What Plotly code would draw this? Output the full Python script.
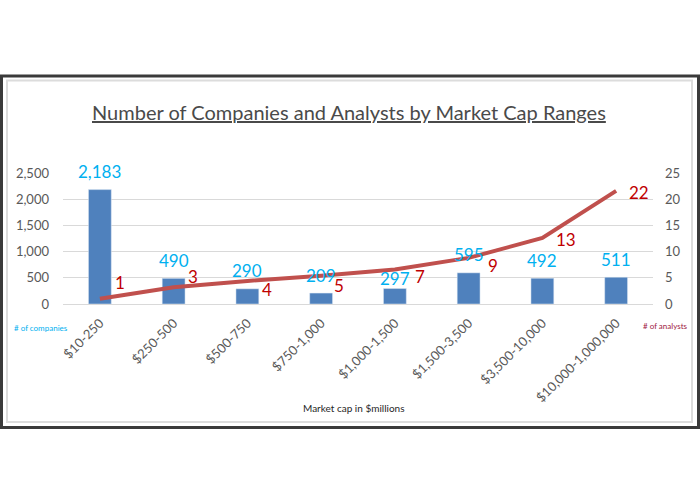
import plotly.graph_objects as go

# ---- data ----
categories = ["$10-250", "$250-500", "$500-750", "$750-1,000", "$1,000-1,500",
              "$1,500-3,500", "$3,500-10,000", "$10,000-1,000,000"]
companies = [2183, 490, 290, 209, 297, 595, 492, 511]
analysts = [1.0, 3.2, 4.4, 5.4, 6.6, 8.8, 12.6, 21.6]
analyst_labels = ["1", "3", "4", "5", "7", "9", "13", "22"]
left_ticks = [0, 500, 1000, 1500, 2000, 2500]
right_ticks = [0, 5, 10, 15, 20, 25]

W, H = 700, 504
def px(x):
    return x / W
def py(y):
    return 1 - y / H

FONT = "Lato, 'Open Sans', sans-serif"
GRAY = "#595959"
BAR = "#4F81BD"
LINE = "#C0504D"
BLUE_LBL = "#00B0F0"
RED_LBL = "#C00000"

fig = go.Figure()
fig.add_trace(go.Bar(x=categories, y=companies, marker_color=BAR, yaxis="y",
                     hoverinfo="skip"))
fig.add_trace(go.Scatter(x=categories, y=analysts, yaxis="y2", mode="lines",
                         line=dict(color=LINE, width=4), hoverinfo="skip"))

annotations = []
# bar value labels
bar_shift = [18, 18, 18, 18, 10, 18, 18, 18]
for c, v, s in zip(categories, companies, bar_shift):
    annotations.append(dict(x=c, y=v, xref="x", yref="y", text=f"{v:,}",
                            showarrow=False, yshift=s, yanchor="middle",
                            font=dict(family=FONT, size=17, color=BLUE_LBL)))
# line value labels
line_shift = [(20, 16), (19, 11), (20, -9), (18, -10), (25, -7), (24, -8), (24, -2), (23, -2)]
for c, v, t, (dx, dy) in zip(categories, analysts, analyst_labels, line_shift):
    annotations.append(dict(x=c, y=v, xref="x", yref="y2", text=t,
                            showarrow=False, xshift=dx, yshift=dy,
                            xanchor="center", yanchor="middle",
                            font=dict(family=FONT, size=17, color=RED_LBL)))
# title
annotations.append(dict(x=px(349), y=py(112), xref="paper", yref="paper",
                        text="<u>Number of Companies and Analysts by Market Cap Ranges</u>",
                        showarrow=False, xanchor="center", yanchor="middle",
                        font=dict(family=FONT, size=20, color="#4A4A4A")))
annotations.append(dict(x=px(41), y=py(328), xref="paper", yref="paper",
                        text="# of companies", showarrow=False,
                        xanchor="center", yanchor="middle",
                        font=dict(family=FONT, size=8, color=BLUE_LBL)))
annotations.append(dict(x=px(665), y=py(326), xref="paper", yref="paper",
                        text="# of analysts", showarrow=False,
                        xanchor="center", yanchor="middle",
                        font=dict(family=FONT, size=8, color="#A0203F")))
annotations.append(dict(x=px(354), y=py(408), xref="paper", yref="paper",
                        text="Market cap in $millions", showarrow=False,
                        xanchor="center", yanchor="middle",
                        font=dict(family=FONT, size=10, color="#262626")))

shapes = [
    dict(type="rect", xref="paper", yref="paper",
         x0=px(1.5), x1=px(698.5), y0=py(427.5), y1=py(76),
         line=dict(color="#3A3A3A", width=3), layer="above"),
    dict(type="rect", xref="paper", yref="paper",
         x0=px(7), x1=px(692), y0=py(422), y1=py(80.5),
         line=dict(color="#DCDCDC", width=2), layer="below"),
]

fig.update_layout(
    width=W, height=H,
    margin=dict(l=0, r=0, t=0, b=0),
    paper_bgcolor="white", plot_bgcolor="white",
    showlegend=False,
    bargap=0.69,
    font=dict(family=FONT, color=GRAY),
    xaxis=dict(domain=[px(63), px(653)], type="category",
               tickangle=-45, tickfont=dict(size=13, color=GRAY),
               showgrid=False, showline=False, ticks="", automargin=False,
               zeroline=False, ticklabelstandoff=8),
    yaxis=dict(domain=[py(304), py(173)], range=[0, 2500],
               tickvals=left_ticks, tickformat=",",
               tickfont=dict(size=13, color=GRAY),
               showgrid=True, gridcolor="#D9D9D9", gridwidth=1,
               zeroline=True, zerolinecolor="#D9D9D9", zerolinewidth=1,
               showline=False, ticks="", automargin=False, ticklabelstandoff=13),
    yaxis2=dict(overlaying="y", side="right", range=[0, 25],
                tickvals=right_ticks, tickfont=dict(size=13, color=GRAY),
                showgrid=False, zeroline=False, showline=False, ticks="",
                automargin=False, ticklabelstandoff=11),
    annotations=annotations,
    shapes=shapes,
)

fig.write_html("out.html")
